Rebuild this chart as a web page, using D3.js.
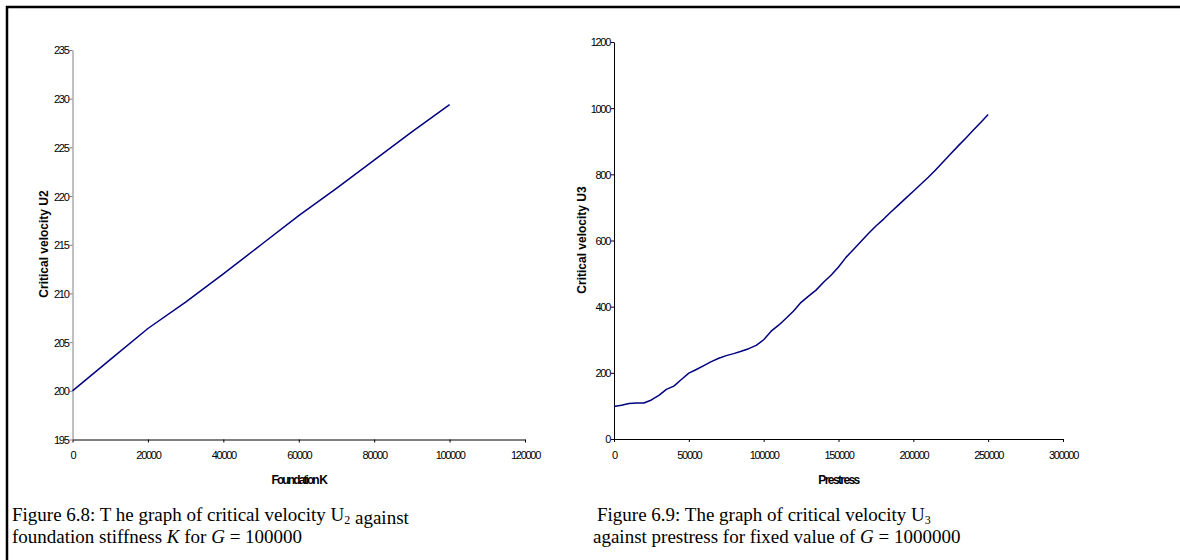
<!DOCTYPE html>
<meta charset="utf-8">
<title>critical velocity</title>
<style>
    body { margin: 0; background: #fff; }
    .tick text {
        font-family: "Liberation Sans", Arial, sans-serif;
        font-size: 11px;
        letter-spacing: -1.3px;
        fill: #000;
    }
    .axisTitle {
        font-family: "Liberation Sans", Arial, sans-serif;
        font-size: 12px;
        font-weight: bold;
        text-anchor: middle;
    }
    .caption {
        font-family: "Liberation Serif", "Times New Roman", serif;
        font-size: 19px;
        fill: #000;
    }
</style>

<body>
    <script src="https://d3js.org/d3.v7.min.js" charset="utf-8"></script>
    <script>
        // ----- data -----

        var foundationK = [0, 10000, 20000, 30000, 40000, 50000, 60000, 70000, 80000, 90000, 100000];
        var velocityU2 = [200, 203.2, 206.4, 209.1, 212.0, 215.0, 218.0, 220.8, 223.7, 226.6, 229.4];

        var prestress = [0, 5000, 10000, 15000, 20000, 25000, 30000, 35000, 40000, 45000,
            50000, 55000, 60000, 65000, 70000, 75000, 80000, 85000, 90000, 95000,
            100000, 105000, 110000, 115000, 120000, 125000, 130000, 135000, 140000, 145000,
            150000, 155000, 160000, 165000, 170000, 175000, 180000, 185000, 190000, 195000,
            200000, 205000, 210000, 215000, 220000, 225000, 230000, 235000, 240000, 245000, 250000];
        var velocityU3 = [98, 102, 107, 109, 109, 118, 132, 150, 160, 180,
            199, 210, 222, 234, 244, 252, 258, 265, 273, 283,
            300, 326, 344, 365, 387, 413, 432, 450, 474, 495,
            520, 549, 573, 597, 621, 644, 664, 686, 707, 728,
            749, 770, 791, 814, 838, 862, 886, 909, 933, 957, 981];

        var kTicks = [0, 20000, 40000, 60000, 80000, 100000, 120000];
        var u2Ticks = [195, 200, 205, 210, 215, 220, 225, 230, 235];
        var prestressTicks = [0, 50000, 100000, 150000, 200000, 250000, 300000];
        var u3Ticks = [0, 200, 400, 600, 800, 1000, 1200];

        // -----------------------

        var width = 1180,
            height = 560;

        var svg = d3.select("body").append("svg")
            .attr("width", width)
            .attr("height", height);

        // page border (top and left only)
        svg.append("path")
            .attr("d", "M7 560 L7 7 L1180 7")
            .style("fill", "none")
            .style("stroke", "#000")
            .style("stroke-width", 2.5);

        lineChart({
            xs: foundationK, ys: velocityU2,
            xTicks: kTicks, yTicks: u2Ticks,
            xRange: [72.5, 525], yRange: [439.5, 50],
            axisColor: "#808080",
            xTitle: "Foundation K", xTitleSpacing: -1.9,
            yTitle: "Critical velocity U2", yTitleX: 48, yTitleY: 244
        });

        lineChart({
            xs: prestress, ys: velocityU3,
            xTicks: prestressTicks, yTicks: u3Ticks,
            xRange: [614, 1063], yRange: [439, 42],
            axisColor: "#000",
            xTitle: "Prestress", xTitleSpacing: -1.6,
            yTitle: "Critical velocity U3", yTitleX: 586, yTitleY: 240
        });

        caption(12, 521, [["Figure 6.8: T he graph of critical velocity U"], ["2", "sub"], [" against"]]);
        caption(12, 543, [["foundation stiffness "], ["K", "it"], [" for "], ["G", "it"], [" = 100000"]]);
        caption(597, 521, [["Figure 6.9: The graph of critical velocity U"], ["3", "sub"]]);
        caption(593, 543, [["against prestress for fixed value of "], ["G", "it"], [" = 1000000"]]);

        function lineChart(c) {
            var x = d3.scaleLinear()
                .domain([c.xTicks[0], c.xTicks[c.xTicks.length - 1]])
                .range(c.xRange);
            var y = d3.scaleLinear()
                .domain([c.yTicks[0], c.yTicks[c.yTicks.length - 1]])
                .range(c.yRange);

            var g = svg.append("g");

            var xAxis = g.append("g")
                .attr("transform", "translate(0," + c.yRange[0] + ")")
                .call(d3.axisBottom(x).tickValues(c.xTicks).tickFormat(d3.format("d"))
                    .tickSize(3).tickSizeOuter(0).tickPadding(9));
            xAxis.select(".domain").style("stroke", "#000");
            xAxis.selectAll(".tick line").style("stroke", "#000");

            var yAxis = g.append("g")
                .attr("transform", "translate(" + c.xRange[0] + ",0)")
                .call(d3.axisLeft(y).tickValues(c.yTicks).tickFormat(d3.format("d"))
                    .tickSize(3).tickSizeOuter(0).tickPadding(1));
            yAxis.select(".domain").style("stroke", c.axisColor);
            yAxis.selectAll(".tick line").style("stroke", c.axisColor);
            yAxis.selectAll(".tick text").attr("dy", "0.36em");

            var line = d3.line()
                .x(function (d, i) { return x(c.xs[i]); })
                .y(function (d) { return y(d); });

            g.append("path")
                .datum(c.ys)
                .attr("d", line)
                .style("fill", "none")
                .style("stroke", "#000080")
                .style("stroke-width", 1.5)
                .style("stroke-linejoin", "round");

            g.append("text")
                .attr("class", "axisTitle")
                .attr("x", (c.xRange[0] + c.xRange[1]) / 2)
                .attr("y", 484)
                .style("letter-spacing", c.xTitleSpacing + "px")
                .text(c.xTitle);

            g.append("text")
                .attr("class", "axisTitle")
                .attr("transform", "translate(" + c.yTitleX + "," + c.yTitleY + ") rotate(-90)")
                .text(c.yTitle);
        }

        function caption(x, y, parts) {
            var t = svg.append("text")
                .attr("class", "caption")
                .attr("x", x)
                .attr("y", y)
                .attr("xml:space", "preserve")
                .style("white-space", "pre");
            parts.forEach(function (p) {
                var s = t.append("tspan").text(p[0]);
                if (p[1] == "sub") s.style("font-size", "12px").attr("dy", 3);
                if (p[1] == "it") s.style("font-style", "italic");
                if (p[1] == "sub") t.append("tspan").attr("dy", -3).text("");
            });
        }
    </script>
